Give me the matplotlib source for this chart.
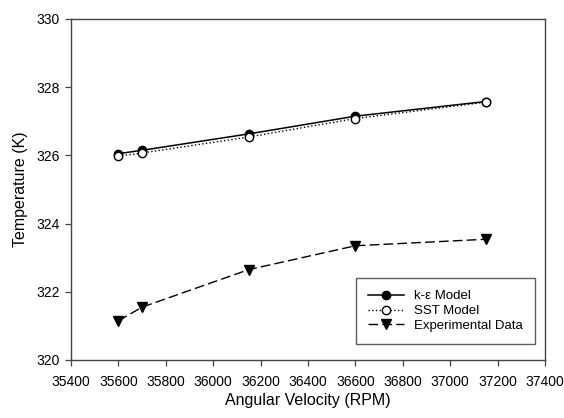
import matplotlib
matplotlib.use("Agg")
import matplotlib.pyplot as plt
import numpy as np

plt.rcParams['font.family'] = ['Liberation Sans', 'DejaVu Sans']

rpm = [35600, 35700, 36150, 36600, 37150]
k_eps = [326.05, 326.15, 326.63, 327.15, 327.58]
sst = [325.98, 326.07, 326.54, 327.08, 327.56]
exp_data = [321.15, 321.55, 322.65, 323.35, 323.54]

xticks = list(range(35400, 37401, 200))
yticks = list(range(320, 331, 2))

fig = plt.figure(figsize=(5.64, 4.18), dpi=100)
ax = fig.add_axes([0.1259, 0.1388, 0.8404, 0.8158])

ax.plot(rpm, k_eps, '-', color='black', lw=1.1, marker='o', ms=6,
        mfc='black', mec='black', label='k-\u03b5 Model')
ax.plot(rpm, sst, ':', color='black', lw=1.0, marker='o', ms=6,
        mfc='white', mec='black', label='SST Model')
ax.plot(rpm, exp_data, '--', color='black', lw=1.0, marker='v', ms=6.5,
        mfc='black', mec='black', dashes=(7, 3), label='Experimental Data')

ax.set_xlim(35400, 37400)
ax.set_ylim(320, 330)
ax.set_xticks(xticks)
ax.set_yticks(yticks)
ax.tick_params(direction='out', length=4.5, width=0.9, labelsize=10,
               top=False, right=False, color='#444444')
ax.tick_params(axis='x', pad=6)
ax.tick_params(axis='y', pad=3.5)
for s in ax.spines.values():
    s.set_linewidth(1.0)
    s.set_color('#444444')

ax.set_xlabel('Angular Velocity (RPM)', fontsize=11.5, labelpad=3)
ax.set_ylabel('Temperature (K)', fontsize=11.5, labelpad=6)

leg = ax.legend(loc='lower right', bbox_to_anchor=(0.979, 0.047), fontsize=9.5,
                frameon=True, fancybox=False, edgecolor='#333333',
                handlelength=2.7, labelspacing=0.2, borderpad=0.9,
                handletextpad=0.8, borderaxespad=0)
leg.get_frame().set_linewidth(1.0)

fig.savefig('out.png', dpi=100)
